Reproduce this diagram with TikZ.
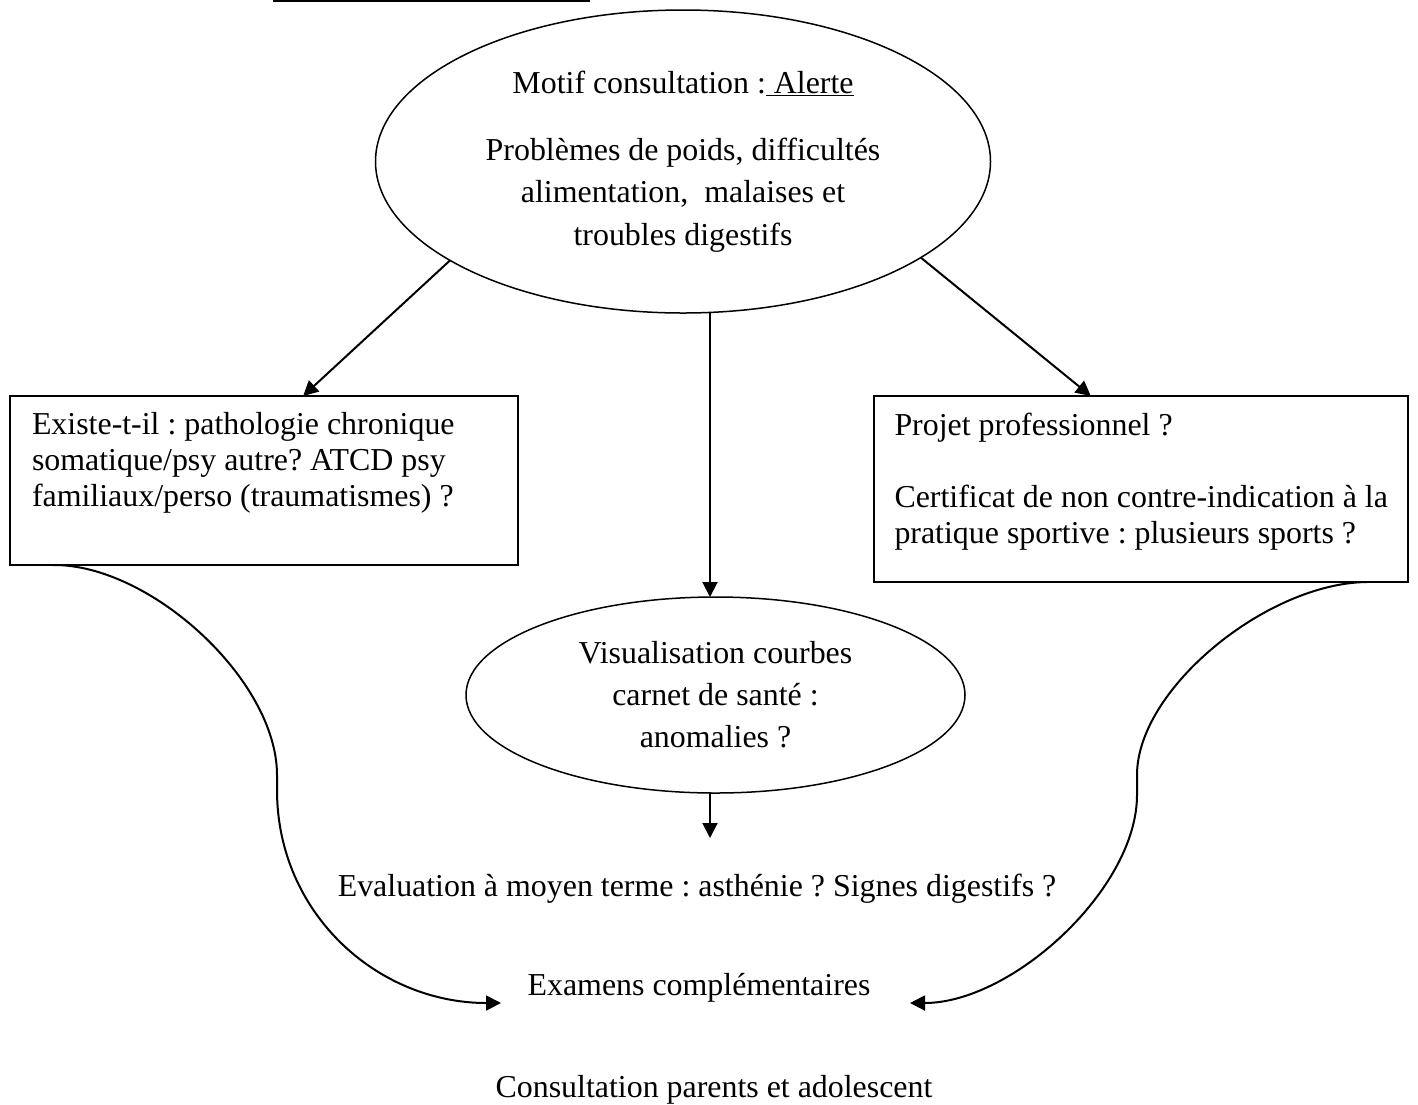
\documentclass[tikz,border=0pt]{standalone}
\usepackage{fontspec}
\setmainfont{Liberation Serif}
\usetikzlibrary{shapes.geometric,arrows.meta,calc}
\begin{document}
\begin{tikzpicture}[x=1pt,y=-1pt,
  every node/.style={font=\fontsize{31.9}{36}\selectfont\frenchspacing, inner sep=0pt, outer sep=0pt},
  ell/.style={ellipse, draw, line width=1.5pt, align=center},
  boxnode/.style={rectangle, draw, line width=2pt},
  arr/.style={line width=2pt, -{Triangle[length=15pt,width=15pt]}},
]
\useasboundingbox (0,0) rectangle (1418,1104);
\draw[line width=2pt] (273,0.8) -- (590,0.8);

% top ellipse
\node[ell, minimum width=615pt, minimum height=303pt,
      font=\fontsize{31.9}{42.5}\selectfont\frenchspacing] (E) at (683,161.5)
  {Motif consultation :\underline{~Alerte}\\[24.5pt]
   Problèmes de poids, difficultés\\
   alimentation,~~malaises et\\
   troubles digestifs};

% left box
\node[boxnode, minimum width=508pt, minimum height=169pt] (L) at (264,480.5) {};
\node[anchor=north west, align=left] (Lt) at ($(L.north west)+(22,16.6)$)
  {Existe-t-il : pathologie chronique\\
   somatique/psy autre? ATCD psy\\
   familiaux/perso (traumatismes) ?};

% right box
\node[boxnode, minimum width=534pt, minimum height=186pt] (R) at (1141,489) {};
\node[anchor=north west, align=left] (Rt) at ($(R.north west)+(20.5,17.4)$)
  {Projet professionnel ?\\[35.7pt]
   Certificat de non contre-indication à la\\
   pratique sportive : plusieurs sports ?};

% middle ellipse
\node[ell, minimum width=499pt, minimum height=196pt,
      font=\fontsize{31.9}{42}\selectfont\frenchspacing] (V) at (715.5,695)
  {Visualisation courbes\\
   carnet de santé :\\
   anomalies ?};

% texts
\node[anchor=base] (Ev) at (697,896) {Evaluation à moyen terme : asthénie ? Signes digestifs ?};
\node[anchor=base] (Ex) at (699,995) {Examens complémentaires};
\node[anchor=base] (Co) at (714,1097) {Consultation parents et adolescent};

% connectors
\draw[arr] (E.203.2) -- ($(L.north west)!0.577!(L.north east)$);
\draw[arr] (E.338.4) -- ($(R.north west)!0.406!(R.north east)$);
\draw[arr] ($(E.south -| V.north)+(-5.5,0)$) -- ($(V.north)+(-5.5,0)$);
\coordinate (Vb) at ($(V.south)+(-5.5,45)$);
\draw[arr] ($(V.south)+(-5.5,0)$) -- (Vb);

\coordinate (exL) at (501,1003);
\coordinate (exR) at (910,1003);
\draw[arr] ($(L.south west)+(43,0)$) .. controls (150,564) and (277,680) .. (277,775)
  -- (277,790) .. controls (277,913) and (377,1003) .. (exL);
\draw[arr] ($(R.south east)+(-41,0)$) .. controls (1267,583) and (1137,689) .. (1137,775)
  -- (1137,795) .. controls (1137,889) and (1012,1003) .. (exR);
\end{tikzpicture}
\end{document}
